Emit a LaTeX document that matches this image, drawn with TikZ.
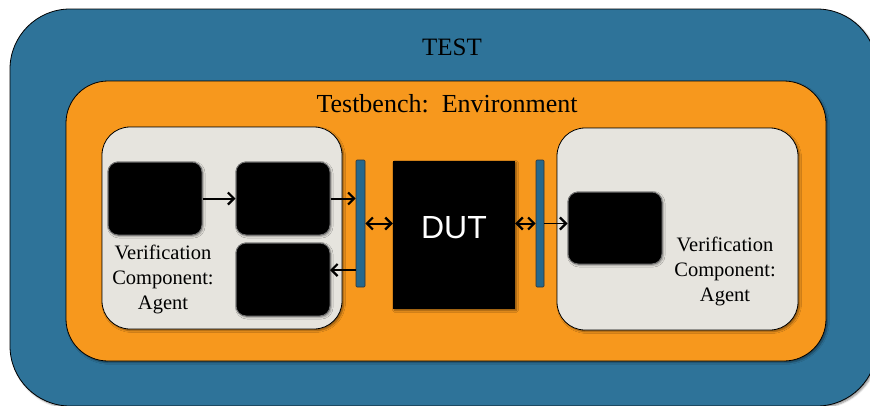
\documentclass[tikz,border=0pt]{standalone}
\usepackage{fontspec}
\setmainfont{Liberation Serif}
\newfontfamily\dutfont{Liberation Sans}
\usetikzlibrary{arrows.meta,shadows.blur}
\definecolor{testblue}{RGB}{46,115,153}
\definecolor{envorange}{RGB}{247,152,29}
\definecolor{agentgray}{RGB}{230,228,222}
\definecolor{portblue}{RGB}{38,104,140}
\tikzset{
  barb/.tip={Straight Barb[length=6pt,width=12pt,line width=2.2pt]},
  panel/.style={draw=black, line width=0.8pt, inner sep=0pt,
    blur shadow={shadow xshift=1.6pt, shadow yshift=-1.6pt, shadow blur steps=5, shadow opacity=45}},
  agentbox/.style={panel, fill=agentgray, rounded corners=28pt,
    minimum width=240pt, minimum height=202pt},
  blockbox/.style={fill=black, draw=black!55, line width=1pt, rounded corners=10pt,
    minimum width=94pt, minimum height=73pt, inner sep=0pt,
    blur shadow={shadow xshift=1.2pt, shadow yshift=-1.2pt, shadow blur steps=4, shadow opacity=40}},
  portbar/.style={fill=portblue, draw=black!80, line width=0.6pt, rounded corners=1pt,
    minimum height=127pt, inner sep=0pt},
  link/.style={line width=2pt, -barb},
  duplex/.style={line width=2pt, barb-barb},
  agentlabel/.style={align=center, font=\fontsize{20.5}{25}\selectfont, inner sep=0pt}
}
\begin{document}
\begin{tikzpicture}[x=1pt, y=-1pt]
  \useasboundingbox (0,0) rectangle (870,405);
  \clip (0,0) rectangle (870,405);

  % test and environment frames
  \node[panel, fill=testblue, rounded corners=60pt, minimum width=867pt, minimum height=397pt] (test) at (443.5,207.5) {};
  \node[font=\fontsize{25}{30}\selectfont] (testlabel) at (452,47) {TEST};
  \node[panel, fill=envorange, rounded corners=42pt, minimum width=760pt, minimum height=280pt] (env) at (446,221) {};
  \node[font=\fontsize{26}{30}\selectfont] (envlabel) at (447,104) {Testbench:\ \ Environment};

  % agents
  \node[agentbox] (agentL) at (222,228) {};
  \node[agentbox, minimum width=241pt] (agentR) at (677.5,229) {};

  \node[blockbox] (blkA) at (155,198.5) {};
  \node[blockbox] (blkB) at (283,198.5) {};
  \node[blockbox] (blkC) at (283,279.5) {};
  \node[blockbox, minimum height=72pt] (blkD) at (615,228) {};

  \node[agentlabel] (labelL) at (163,279) {Verification\\Component:\\Agent};
  \node[agentlabel] (labelR) at (725,271) {Verification\\Component:\\Agent};

  % interfaces and device under test
  \node[portbar, minimum width=9pt] (barL) at (360.5,223.5) {};
  \node[portbar, minimum width=8pt] (barR) at (540,223.5) {};
  \node[fill=black, minimum width=122pt, minimum height=148pt, inner sep=0pt,
    blur shadow={shadow xshift=1.5pt, shadow yshift=-1.5pt, shadow blur steps=5, shadow opacity=45}] (dut) at (454,235) {};
  \node[text=white, font=\dutfont\fontsize{32}{36}\selectfont] (dutlabel) at (454,228) {DUT};

  % connections
  \coordinate (retC) at (330,270);
  \draw[link] (blkA.east) -- (blkB.west);
  \draw[link] (blkB.east) -- (blkB.east -| barL.west);
  \draw[link] (retC -| barL.west) -- (retC);
  \draw[duplex] (barL.east) -- (barL.east -| dut.west);
  \draw[duplex] (barR.west -| dut.east) -- (barR.west);
  \draw[link, line width=1.5pt] (barR.east) -- (barR.east -| blkD.west);
\end{tikzpicture}
\end{document}
